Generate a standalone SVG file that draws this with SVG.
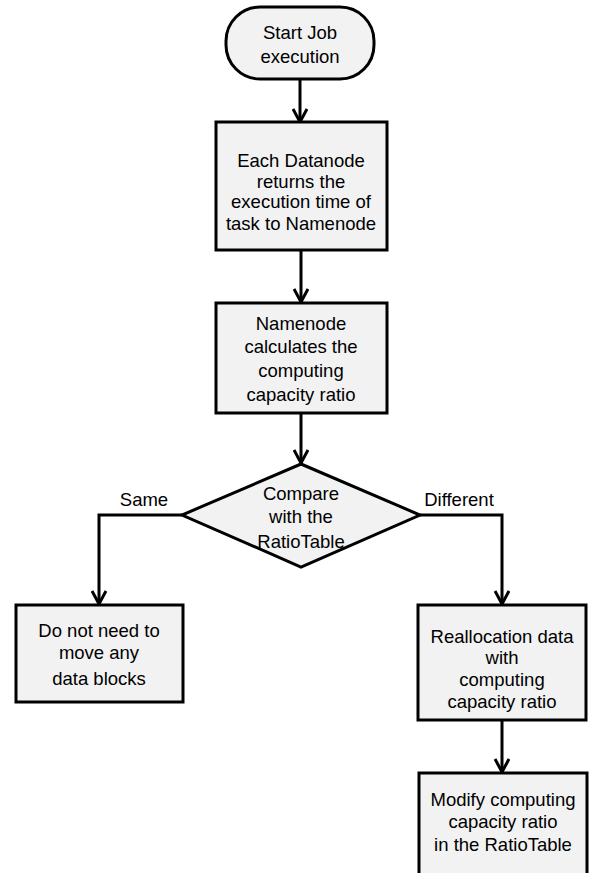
<svg xmlns="http://www.w3.org/2000/svg" width="589" height="873" viewBox="0 0 589 873">
<style>
.n{fill:#f2f2f2;stroke:#000;stroke-width:3}
.t{font-family:"Liberation Sans",Arial,sans-serif;font-size:18.5px;fill:#000;text-anchor:middle}
.c{fill:none;stroke:#000;stroke-width:3}
</style>
<defs>
<marker id="ah" markerUnits="userSpaceOnUse" viewBox="0 0 16 16" refX="14" refY="8" markerWidth="16" markerHeight="16" orient="auto">
<path d="M1,1 L14,8 L1,15" fill="none" stroke="#000" stroke-width="3"/>
</marker>
</defs>
<rect width="589" height="873" fill="#fff"/>
<g id="connectors">
<line class="c" x1="300" y1="79" x2="300" y2="122" marker-end="url(#ah)"/>
<line class="c" x1="301" y1="250" x2="301" y2="302" marker-end="url(#ah)"/>
<line class="c" x1="301" y1="413" x2="301" y2="463" marker-end="url(#ah)"/>
<polyline class="c" points="182,515 99,515 99,604" marker-end="url(#ah)"/>
<polyline class="c" points="420,515 502,515 502,604" marker-end="url(#ah)"/>
<line class="c" x1="502" y1="720" x2="502" y2="772" marker-end="url(#ah)"/>
<text class="t" x="144" y="506">Same</text>
<text class="t" x="459" y="506">Different</text>
</g>
<g id="start">
<rect class="n" x="226" y="7" width="148" height="72" rx="34" ry="34"/>
<text class="t" x="300" y="39">Start Job</text>
<text class="t" x="300" y="63">execution</text>
</g>
<g id="datanode">
<rect class="n" x="216" y="122" width="171" height="128"/>
<text class="t" x="301" y="167">Each Datanode</text>
<text class="t" x="301" y="188">returns the</text>
<text class="t" x="301" y="208">execution time of</text>
<text class="t" x="301" y="230">task to Namenode</text>
</g>
<g id="namenode">
<rect class="n" x="216" y="303" width="171" height="110"/>
<text class="t" x="301" y="330">Namenode</text>
<text class="t" x="301" y="353">calculates the</text>
<text class="t" x="301" y="377">computing</text>
<text class="t" x="301" y="401">capacity ratio</text>
</g>
<g id="compare">
<polygon class="n" points="301,464 420,515 301,567 182,515"/>
<text class="t" x="301" y="500">Compare</text>
<text class="t" x="301" y="523">with the</text>
<text class="t" x="301" y="548">RatioTable</text>
</g>
<g id="nomove">
<rect class="n" x="16" y="605" width="167" height="97"/>
<text class="t" x="99" y="637">Do not need to</text>
<text class="t" x="99" y="659">move any</text>
<text class="t" x="99" y="685">data blocks</text>
</g>
<g id="realloc">
<rect class="n" x="418" y="605" width="168" height="115"/>
<text class="t" x="502" y="643">Reallocation data</text>
<text class="t" x="502" y="664">with</text>
<text class="t" x="502" y="686">computing</text>
<text class="t" x="502" y="708">capacity ratio</text>
</g>
<g id="modify">
<rect class="n" x="419" y="773" width="168" height="110"/>
<text class="t" x="503" y="806">Modify computing</text>
<text class="t" x="503" y="828">capacity ratio</text>
<text class="t" x="503" y="851">in the RatioTable</text>
</g>
</svg>
